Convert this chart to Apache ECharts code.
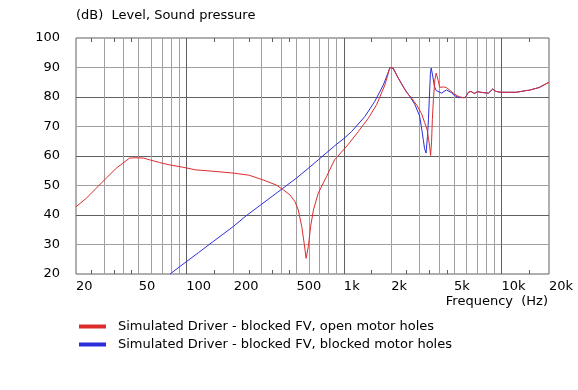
<!DOCTYPE html>
<html>
<head>
<meta charset="utf-8">
<script src="https://cdn.jsdelivr.net/npm/echarts@6/dist/echarts.min.js"></script>
<style>
html,body{margin:0;padding:0;background:#fff;}
#chart{width:578px;height:390px;}
</style>
</head>
<body>
<div id="chart"></div>
<script>
// ---- data (frequency in Hz, level in dB) ----
const nameOpen = 'Simulated Driver - blocked FV, open motor holes';
const nameBlocked = 'Simulated Driver - blocked FV, blocked motor holes';

const freqOpen = [20, 23.3, 26.9, 31.1, 36.1, 40.9, 43.7, 48, 53.6, 58.6, 67.7, 78.3, 95, 115, 150, 200, 250, 307, 371, 409, 455, 490, 514, 541, 560, 576, 595, 615, 641, 688, 776, 873, 1061, 1235, 1429, 1613, 1821, 1900, 1958, 2056, 2214, 2380, 2500, 2690, 2900, 3100, 3250, 3374, 3440, 3500, 3550, 3600, 3640, 3700, 3780, 3850, 3920, 3970, 4050, 4160, 4300, 4470, 4720, 5000, 5375, 5800, 6000, 6150, 6400, 6710, 7050, 7600, 8260, 8780, 9200, 9900, 12400, 14400, 15000, 17300, 18600, 19100, 20000];
const dbOpen = [42.8, 45.7, 49.1, 52.5, 55.9, 58.1, 59.3, 59.4, 59.3, 58.7, 57.8, 57.0, 56.2, 55.3, 54.8, 54.2, 53.5, 51.9, 50.2, 48.7, 46.8, 44.5, 41.7, 36.0, 30.4, 25.3, 29.3, 36.0, 41.7, 47.4, 53.0, 58.7, 63.8, 68.3, 72.8, 77.4, 84.1, 87.5, 90.0, 89.8, 86.4, 83.6, 81.5, 79.6, 77.2, 74.5, 71.4, 68.9, 66.0, 63.2, 60.2, 65.0, 72.3, 79.5, 86.0, 88.1, 87.5, 85.5, 83.3, 82.8, 83.4, 83.2, 82.2, 81.1, 80.1, 79.7, 80.5, 81.6, 81.9, 81.2, 81.8, 81.5, 81.3, 82.7, 81.9, 81.6, 81.6, 82.2, 82.3, 83.2, 84.1, 84.7, 85.0];

const freqBlocked = [79, 91, 120, 150, 200, 241, 300, 409, 500, 600, 688, 890, 1000, 1120, 1360, 1570, 1780, 1900, 1958, 2056, 2214, 2380, 2620, 2818, 2900, 3020, 3100, 3190, 3250, 3320, 3390, 3440, 3480, 3540, 3580, 3650, 3750, 3850, 3950, 4160, 4470, 4800, 5000, 5320, 5880, 6000, 6150, 6400, 6710, 7050, 7600, 8260, 8780, 9200, 9900, 12400, 14400, 15000, 17300, 18600, 19100, 20000];
const dbBlocked = [20.0, 22.5, 27.3, 31.2, 36.2, 39.8, 43.6, 49.0, 52.5, 56.0, 58.7, 63.8, 65.9, 68.3, 73.4, 78.5, 84.1, 88.0, 90.0, 89.6, 86.4, 83.4, 80.2, 77.5, 77.0, 73.6, 70.0, 65.5, 62.5, 61.0, 66.6, 72.3, 79.0, 88.1, 89.8, 87.5, 83.6, 82.2, 81.7, 81.3, 82.4, 81.5, 80.6, 79.8, 79.8, 80.3, 81.5, 81.9, 81.2, 81.8, 81.5, 81.3, 82.7, 81.9, 81.6, 81.6, 82.2, 82.3, 83.2, 84.1, 84.7, 85.0];

// ---- axis tick values ----
const xLabelValues = [20, 50, 100, 200, 500, 1000, 2000, 5000, 10000, 20000];
const xGridLight = [30, 40, 50, 60, 70, 80, 90, 200, 300, 400, 500, 600, 700, 800, 900, 2000, 3000, 4000, 5000, 6000, 7000, 8000, 9000];
const xGridDark = [100, 1000, 10000];
const xMinorTicks = [25, 35, 45, 150, 250, 350, 450, 1500, 2500, 3500, 4500, 15000];
const yGridLight = [30, 50, 70, 90];
const yGridDark = [40, 60, 80];

const FONT = 'DejaVu Sans';
const LIGHT = '#a0a0a0';
const DARK = '#606060';
const RED = '#dc2d2d';
const BLUE = '#2d2ddc';

function pairs(xs, ys) { return xs.map((x, i) => [x, ys[i]]); }
function fmtFreq(v) {
  const r = Math.round(v);
  return r >= 1000 ? (r / 1000) + 'k' : String(r);
}

const baseX = { type: 'log', logBase: 10, min: 20, max: 20000, gridIndex: 0 };
const chart = echarts.init(document.getElementById('chart'), null, { renderer: 'canvas' });

chart.setOption({
  animation: false,
  backgroundColor: '#fff',
  textStyle: { fontFamily: FONT },
  title: [
    { text: '(dB)  Level, Sound pressure', left: 71, top: 4, padding: 5,
      textStyle: { fontFamily: FONT, fontSize: 13, fontWeight: 'normal', color: '#000' } },
    { text: 'Frequency  (Hz)', right: 25, top: 290, padding: 5,
      textStyle: { fontFamily: FONT, fontSize: 13, fontWeight: 'normal', color: '#000' } }
  ],
  legend: {
    orient: 'vertical', left: 79, top: 320, padding: 0,
    itemWidth: 27, itemHeight: 4, itemGap: 5, icon: 'rect',
    data: [nameOpen, nameBlocked],
    textStyle: { fontFamily: FONT, fontSize: 13, color: '#000', padding: [0, 0, 6, 7] }
  },
  grid: { left: 76, right: 29, top: 38, bottom: 116, show: true, borderColor: DARK, borderWidth: 1, backgroundColor: '#fff' },
  xAxis: [
    Object.assign({}, baseX, {
      position: 'bottom',
      axisLine: { show: false },
      axisTick: { show: true, inside: true, length: 4, customValues: xMinorTicks, lineStyle: { color: DARK } },
      splitLine: { show: false },
      axisLabel: { show: true, customValues: xLabelValues, formatter: fmtFreq, align: 'left', margin: 6,
                   fontFamily: FONT, fontSize: 13, color: '#000' }
    }),
    Object.assign({}, baseX, {
      position: 'top',
      axisLine: { show: false },
      axisTick: { show: true, inside: true, length: 4, customValues: xMinorTicks, lineStyle: { color: DARK } },
      splitLine: { show: false },
      axisLabel: { show: false }
    }),
    Object.assign({}, baseX, {
      position: 'bottom',
      axisLine: { show: false },
      axisTick: { show: false, customValues: xGridLight },
      splitLine: { show: true, lineStyle: { color: LIGHT, width: 1 } },
      axisLabel: { show: false }
    }),
    Object.assign({}, baseX, {
      position: 'top',
      axisLine: { show: false },
      axisTick: { show: false, customValues: xGridDark },
      splitLine: { show: true, lineStyle: { color: DARK, width: 1 } },
      axisLabel: { show: false }
    })
  ],
  yAxis: [
    {
      type: 'value', min: 20, max: 100, interval: 10, position: 'left',
      axisLine: { show: false },
      axisTick: { show: false, customValues: yGridLight },
      splitLine: { show: true, lineStyle: { color: LIGHT, width: 1 } },
      axisLabel: { show: true, margin: 16, fontFamily: FONT, fontSize: 13, color: '#000' }
    },
    {
      type: 'value', min: 20, max: 100, interval: 10, position: 'right',
      axisLine: { show: false },
      axisTick: { show: false, customValues: yGridDark },
      splitLine: { show: true, lineStyle: { color: DARK, width: 1 } },
      axisLabel: { show: false }
    }
  ],
  series: [
    {
      name: nameBlocked, type: 'line', xAxisIndex: 0, yAxisIndex: 0,
      data: pairs(freqBlocked, dbBlocked),
      showSymbol: false, symbol: 'none', clip: true,
      itemStyle: { color: BLUE }, lineStyle: { color: BLUE, width: 1 }, z: 3
    },
    {
      name: nameOpen, type: 'line', xAxisIndex: 0, yAxisIndex: 0,
      data: pairs(freqOpen, dbOpen),
      showSymbol: false, symbol: 'none', clip: true,
      itemStyle: { color: RED }, lineStyle: { color: RED, width: 1 }, z: 4
    }
  ]
});
</script>
</body>
</html>
